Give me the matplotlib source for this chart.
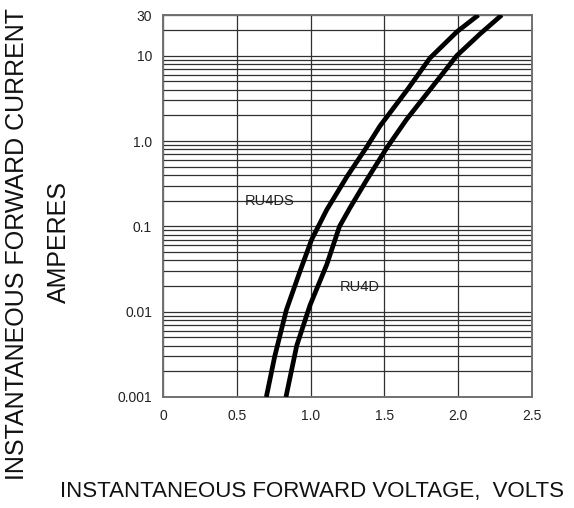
import matplotlib
matplotlib.use("Agg")
import matplotlib.pyplot as plt
from matplotlib.ticker import FixedLocator, LogLocator, NullFormatter

plt.rcParams['font.family'] = ['Liberation Sans', 'DejaVu Sans']

# Data
ru4ds_v = [0.70, 0.757, 0.836, 0.928, 1.007, 1.109, 1.245, 1.38, 1.47, 1.651, 1.809, 1.99, 2.137]
ru4ds_i = [0.001, 0.003, 0.0105, 0.0297, 0.070, 0.156, 0.38, 0.85, 1.5, 3.9, 9.4, 19, 30]
ru4d_v = [0.833, 0.906, 0.996, 1.109, 1.196, 1.267, 1.38, 1.516, 1.651, 1.809, 1.99, 2.148, 2.295]
ru4d_i = [0.001, 0.004, 0.0119, 0.0355, 0.1, 0.165, 0.35, 0.83, 1.8, 4.0, 10.0, 18, 30]

x_ticks = [0, 0.5, 1.0, 1.5, 2.0, 2.5]
x_ticklabels = ["0", "0.5", "1.0", "1.5", "2.0", "2.5"]
y_ticks = [0.001, 0.01, 0.1, 1.0, 10, 30]
y_ticklabels = ["0.001", "0.01", "0.1", "1.0", "10", "30"]

fig = plt.figure(figsize=(5.74, 5.08), dpi=100)
ax = fig.add_axes([163/574, 1-397/508, (532-163)/574, (397-15)/508])

ax.set_yscale('log')
ax.set_xlim(0, 2.5)
ax.set_ylim(0.001, 30)

ax.xaxis.set_major_locator(FixedLocator(x_ticks))
ax.set_xticklabels(x_ticklabels)
ax.yaxis.set_major_locator(FixedLocator(y_ticks))
ax.set_yticklabels(y_ticklabels)
ax.yaxis.set_minor_locator(LogLocator(base=10, subs=range(2, 10)))
ax.yaxis.set_minor_formatter(NullFormatter())

ax.tick_params(axis='both', which='both', length=0, labelsize=10, colors='#222222')
ax.tick_params(axis='x', pad=9)
ax.tick_params(axis='y', pad=8)

ax.grid(True, which='major', axis='both', color='#303030', linewidth=0.9)
ax.grid(True, which='minor', axis='y', color='#303030', linewidth=0.9)
for s in ax.spines.values():
    s.set_color('#707070')
    s.set_linewidth(1.4)

ax.plot(ru4ds_v, ru4ds_i, color='black', linewidth=3.4, solid_capstyle='butt',
        solid_joinstyle='round', zorder=5)
ax.plot(ru4d_v, ru4d_i, color='black', linewidth=3.4, solid_capstyle='butt',
        solid_joinstyle='round', zorder=5)

ax.text(0.725, 0.2, "RU4DS", fontsize=10.5, ha='center', va='center', color='#222222')
ax.text(1.335, 0.0196, "RU4D", fontsize=10.5, ha='center', va='center', color='#222222')

fig.text(17/574, 1-243.5/508, "INSTANTANEOUS FORWARD CURRENT", rotation=90,
         ha='center', va='center', fontsize=18, color='#111111')
fig.text(59/574, 1-242/508, "AMPERES", rotation=90,
         ha='center', va='center', fontsize=18, color='#111111')
fig.text(311.5/574, 1-491/508, "INSTANTANEOUS FORWARD VOLTAGE,  VOLTS",
         ha='center', va='center', fontsize=16, color='#111111')

fig.savefig("out.png", dpi=100)
